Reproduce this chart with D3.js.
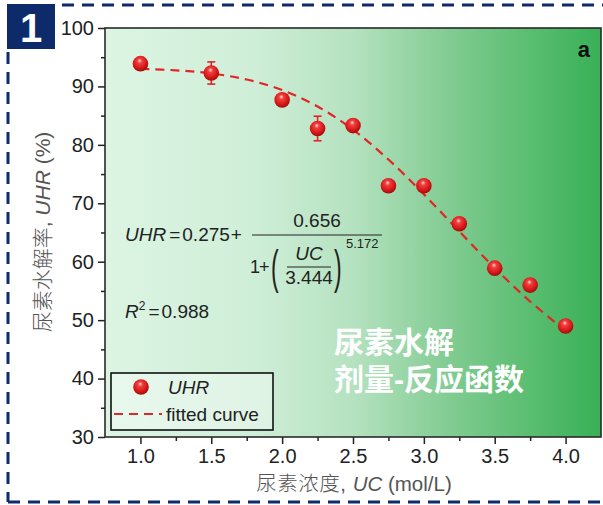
<!DOCTYPE html>
<html><head><meta charset="utf-8">
<script src="https://cdn.jsdelivr.net/npm/d3@7/dist/d3.min.js"></script>
<style>body{margin:0;background:#fff}svg{display:block}</style>
</head><body><svg id="c" width="603" height="505"></svg>
<script>
// ---- data ----
const concentrations = [1.0, 1.5, 2.0, 2.25, 2.5, 2.75, 3.0, 3.25, 3.5, 3.75, 4.0];
const uhrValues      = [93.9, 92.3, 87.7, 82.8, 83.3, 73.0, 73.0, 66.5, 58.9, 56.0, 49.0];
const uhrErrors      = [0.3, 1.9, 0.4, 2.1, 0.4, 0.3, 0.4, 0.4, 0.3, 0.4, 0.3];
const fitX = [1.0, 1.25, 1.5, 1.75, 2.0, 2.25, 2.5, 2.75, 3.0, 3.25, 3.5, 3.75, 4.0];
const fitY = [92.99, 92.76, 92.22, 91.18, 89.38, 86.57, 82.59, 77.49, 71.54, 65.18, 58.93, 53.19, 48.20];
const xTickLabels = ["1.0", "1.5", "2.0", "2.5", "3.0", "3.5", "4.0"];
const yTickLabels = ["30", "40", "50", "60", "70", "80", "90", "100"];

const svg = d3.select("#c");
const L = 105, T = 28, R = 601, B = 437;
const x = d3.scaleLinear().domain([0.75, 4.25]).range([L, R]);
const y = d3.scaleLinear().domain([30, 100]).range([B, T]);

const defs = svg.append("defs");
const bg = defs.append("linearGradient").attr("id", "bg");
[[0, "#dcf5e3"], [0.3, "#cfeed8"], [0.5, "#b5e2c0"], [0.7, "#80cb91"], [0.85, "#5cbe72"], [1, "#38b057"]]
  .forEach(([o, c]) => bg.append("stop").attr("offset", o).attr("stop-color", c));
const ball = defs.append("radialGradient").attr("id", "ball")
  .attr("cx", "45%").attr("cy", "40%").attr("r", "60%").attr("fx", "45%").attr("fy", "30%");
[[0, "#ffd8d8"], [0.25, "#f04040"], [0.7, "#d81818"], [1, "#a00c0c"]]
  .forEach(([o, c]) => ball.append("stop").attr("offset", o).attr("stop-color", c));

// outer dashed frame + badge
const navy = "#0d2a6a";
const frame = svg.append("g").attr("stroke", navy).attr("stroke-width", 3).attr("stroke-dasharray", "12,8").attr("fill", "none");
frame.append("line").attr("x1", 62).attr("y1", 5).attr("x2", 603).attr("y2", 5);
frame.append("line").attr("x1", 8).attr("y1", 52).attr("x2", 8).attr("y2", 502);
frame.append("line").attr("x1", 8).attr("y1", 502).attr("x2", 603).attr("y2", 502);
svg.append("rect").attr("x", 7).attr("y", 4).attr("width", 48).attr("height", 45).attr("fill", navy);
svg.append("text").attr("x", 31).attr("y", 42).attr("text-anchor", "middle").attr("fill", "#fff")
  .attr("font-family", "Liberation Sans, Arial, sans-serif").attr("font-weight", "bold").attr("font-size", 40).text("1");

// plot background
svg.append("rect").attr("x", L).attr("y", T).attr("width", R - L).attr("height", B - T).attr("fill", "url(#bg)");

// axes
const font = "Liberation Sans, Arial, sans-serif";
const yAxis = d3.axisLeft(y).tickValues(yTickLabels.map(Number)).tickFormat((d, i) => yTickLabels[i]).tickSize(7).tickPadding(4);
svg.append("g").attr("transform", `translate(${L},0)`).call(yAxis);
const yMinor = d3.axisLeft(y).tickValues(d3.range(35, 100, 10)).tickFormat("").tickSize(4);
svg.append("g").attr("transform", `translate(${L},0)`).call(yMinor);
const xAxis = d3.axisBottom(x).tickValues(xTickLabels.map(Number)).tickFormat((d, i) => xTickLabels[i]).tickSize(7).tickPadding(5);
svg.append("g").attr("transform", `translate(0,${B})`).call(xAxis);
const xMinor = d3.axisBottom(x).tickValues(d3.range(1.25, 4.0, 0.5)).tickFormat("").tickSize(4);
svg.append("g").attr("transform", `translate(0,${B})`).call(xMinor);
svg.selectAll(".domain").remove();
svg.selectAll(".tick line").attr("stroke", "#222").attr("stroke-width", 1.5);
svg.selectAll(".tick text").attr("font-family", font).attr("font-size", 20).attr("fill", "#222");
svg.append("rect").attr("x", L).attr("y", T).attr("width", R - L).attr("height", B - T)
  .attr("fill", "none").attr("stroke", "#2a2a2a").attr("stroke-width", 1.6);

// axis titles (Latin primary font keeps line boxes compact; CJK falls back)
const mixed = "'Liberation Sans', 'Noto Sans CJK SC', sans-serif";
const xt = svg.append("text").attr("x", 354).attr("y", 491).attr("text-anchor", "middle").attr("fill", "#555").attr("font-size", 20.5).attr("font-family", mixed).attr("font-weight", 300);
xt.append("tspan").attr("letter-spacing", 0.5).text("尿素浓度, ");
xt.append("tspan").attr("font-style", "italic").text("UC");
xt.append("tspan").text(" (mol/L)");
const yt = svg.append("text").attr("transform", "translate(50,232) rotate(-90)").attr("text-anchor", "middle").attr("fill", "#555").attr("font-size", 21).attr("font-family", mixed).attr("font-weight", 300);
yt.append("tspan").text("尿素水解率, ");
yt.append("tspan").attr("font-style", "italic").text("UHR");
yt.append("tspan").text(" (%)");

// fitted curve
const fit = fitX.map((v, i) => [v, fitY[i]]);
const lineGen = d3.line().x(d => x(d[0])).y(d => y(d[1])).curve(d3.curveCatmullRom);
svg.append("path").attr("d", lineGen(fit)).attr("fill", "none").attr("stroke", "#e02626").attr("stroke-width", 2.2).attr("stroke-dasharray", "9,6");

// error bars
const pts = concentrations.map((c, i) => ({ c, v: uhrValues[i], e: uhrErrors[i] }));
const eb = svg.append("g").attr("stroke", "#e02626").attr("stroke-width", 1.6);
pts.forEach(p => {
  eb.append("line").attr("x1", x(p.c)).attr("x2", x(p.c)).attr("y1", y(p.v - p.e)).attr("y2", y(p.v + p.e));
  [p.v - p.e, p.v + p.e].forEach(v => eb.append("line").attr("x1", x(p.c) - 4).attr("x2", x(p.c) + 4).attr("y1", y(v)).attr("y2", y(v)));
});
svg.append("g").selectAll("circle").data(pts).join("circle")
  .attr("cx", d => x(d.c)).attr("cy", d => y(d.v)).attr("r", 7.8).attr("fill", "url(#ball)");

// equation
const eq = svg.append("g").attr("font-family", font).attr("fill", "#222");
const t1 = eq.append("text").attr("x", 125).attr("y", 241).attr("font-size", 19);
t1.append("tspan").attr("font-style", "italic").text("UHR");
t1.append("tspan").attr("dx", 3).text("=");
t1.append("tspan").attr("dx", 2).text("0.275");
t1.append("tspan").attr("dx", 1).text("+");
eq.append("text").attr("x", 317).attr("y", 227).attr("text-anchor", "middle").attr("font-size", 19).text("0.656");
eq.append("line").attr("x1", 252).attr("x2", 382).attr("y1", 235).attr("y2", 235).attr("stroke", "#222").attr("stroke-width", 1);
const onePlus = eq.append("text").attr("x", 250).attr("y", 273).attr("font-size", 18);
onePlus.append("tspan").text("1");
onePlus.append("tspan").attr("dx", -1).text("+");
eq.append("text").attr("x", 271).attr("y", 283).attr("font-size", 46).attr("font-weight", 300).attr("transform", "translate(271,0) scale(0.5,1) translate(-271,0)").text("(");
eq.append("text").attr("x", 334).attr("y", 283).attr("font-size", 46).attr("font-weight", 300).attr("transform", "translate(334,0) scale(0.5,1) translate(-334,0)").text(")");
eq.append("text").attr("x", 309).attr("y", 260).attr("text-anchor", "middle").attr("font-size", 19).attr("font-style", "italic").text("UC");
eq.append("line").attr("x1", 287).attr("x2", 331).attr("y1", 267).attr("y2", 267).attr("stroke", "#222").attr("stroke-width", 1);
eq.append("text").attr("x", 309).attr("y", 284).attr("text-anchor", "middle").attr("font-size", 19).text("3.444");
eq.append("text").attr("x", 346).attr("y", 248).attr("font-size", 13).text("5.172");
const r2 = eq.append("text").attr("x", 125).attr("y", 318).attr("font-size", 19);
r2.append("tspan").attr("font-style", "italic").text("R");
r2.append("tspan").attr("font-size", 12).attr("dy", -8).text("2");
r2.append("tspan").attr("dy", 8).attr("dx", 3).text("=");
r2.append("tspan").attr("dx", 2).text("0.988");

// panel letter
svg.append("text").attr("x", 590).attr("y", 57).attr("text-anchor", "end").attr("font-family", font).attr("font-weight", "bold").attr("font-size", 22).attr("fill", "#111").text("a");

// Chinese overlay text
const ov = svg.append("g").attr("font-family", mixed).attr("font-weight", "bold").attr("font-size", 30).attr("fill", "#fff");
ov.append("text").attr("x", 334).attr("y", 353).text("尿素水解");
ov.append("text").attr("x", 334).attr("y", 390).text("剂量-反应函数");

// legend
const lg = svg.append("g");
lg.append("rect").attr("x", 111).attr("y", 373).attr("width", 162).attr("height", 57).attr("fill", "rgba(255,255,255,0.35)").attr("stroke", "#111").attr("stroke-width", 1.6);
lg.append("circle").attr("cx", 141).attr("cy", 387).attr("r", 7.8).attr("fill", "url(#ball)");
lg.append("text").attr("x", 168).attr("y", 394).attr("font-family", font).attr("font-style", "italic").attr("font-size", 19).attr("fill", "#222").text("UHR");
lg.append("line").attr("x1", 114).attr("x2", 162).attr("y1", 414).attr("y2", 414).attr("stroke", "#e02626").attr("stroke-width", 2.2).attr("stroke-dasharray", "9,6");
lg.append("text").attr("x", 166).attr("y", 421).attr("font-family", font).attr("font-size", 19).attr("fill", "#222").text("fitted curve");
</script></body></html>
